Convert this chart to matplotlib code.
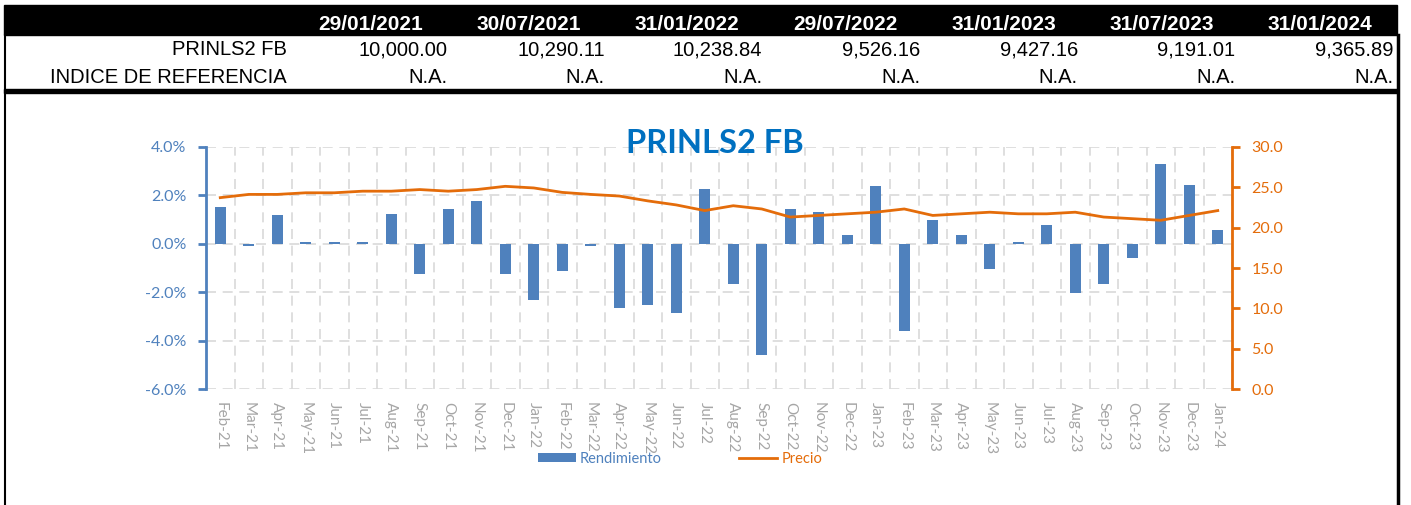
import matplotlib
matplotlib.use("Agg")
import matplotlib.pyplot as plt
from matplotlib.patches import Rectangle, Patch
from matplotlib.lines import Line2D
from matplotlib.ticker import FuncFormatter, MultipleLocator

# Table data
dates = ["29/01/2021", "30/07/2021", "31/01/2022", "29/07/2022",
         "31/01/2023", "31/07/2023", "31/01/2024"]
fund_values = ["10,000.00", "10,290.11", "10,238.84", "9,526.16",
               "9,427.16", "9,191.01", "9,365.89"]
index_values = ["N.A."] * 7
row_names = ["PRINLS2 FB", "INDICE DE REFERENCIA"]

# Chart data
months = ["Feb-21", "Mar-21", "Apr-21", "May-21", "Jun-21", "Jul-21",
          "Aug-21", "Sep-21", "Oct-21", "Nov-21", "Dec-21", "Jan-22",
          "Feb-22", "Mar-22", "Apr-22", "May-22", "Jun-22", "Jul-22",
          "Aug-22", "Sep-22", "Oct-22", "Nov-22", "Dec-22", "Jan-23",
          "Feb-23", "Mar-23", "Apr-23", "May-23", "Jun-23", "Jul-23",
          "Aug-23", "Sep-23", "Oct-23", "Nov-23", "Dec-23", "Jan-24"]
rendimiento = [1.53, -0.11, 1.17, 0.08, 0.08, 0.08, 1.22, -1.25, 1.43, 1.77, -1.25, -2.32,
               -1.11, -0.11, -2.65, -2.51, -2.84, 2.24, -1.65, -4.60, 1.43, 1.31, 0.36, 2.36,
               -3.59, 0.96, 0.36, -1.04, 0.08, 0.76, -2.05, -1.65, -0.58, 3.30, 2.42, 0.55]
precio = [23.7, 24.1, 24.1, 24.3, 24.3, 24.5, 24.5, 24.7, 24.5, 24.7, 25.1, 24.9,
          24.35, 24.1, 23.9, 23.3, 22.8, 22.1, 22.7, 22.3, 21.3, 21.5, 21.7, 21.9,
          22.3, 21.5, 21.7, 21.9, 21.7, 21.7, 21.9, 21.3, 21.1, 20.9, 21.5, 22.1]

BLUE = "#4F81BD"
ORANGE = "#E46C0A"
W, H = 1411, 505


def fx(px):
    return px / W


def fy(py):
    return 1 - py / H


fig = plt.figure(figsize=(W / 100, H / 100), dpi=100)

# ---- table on top ----
fig.patches.append(Rectangle((fx(4), fy(35)), fx(1397) - fx(4), fy(5) - fy(35),
                             transform=fig.transFigure, color="black"))
fig.patches.append(Rectangle((fx(4), fy(93)), fx(1397) - fx(4), fy(89) - fy(93),
                             transform=fig.transFigure, color="black"))
fig.lines.append(Line2D([fx(5), fx(5)], [fy(35), 0], transform=fig.transFigure,
                        color="black", lw=1.5))
fig.lines.append(Line2D([fx(1398), fx(1398)], [fy(35), 0], transform=fig.transFigure,
                        color="black", lw=2.5))

for i, d in enumerate(dates):
    fig.text(fx(370.5 + i * 158.3), fy(30), d, ha="center", va="baseline",
             color="white", fontsize=15, fontweight="bold", family="Liberation Sans")
fig.text(fx(287), fy(55), row_names[0], ha="right", va="baseline",
         fontsize=14.5, family="Liberation Sans")
fig.text(fx(287), fy(83), row_names[1], ha="right", va="baseline",
         fontsize=14.5, family="Liberation Sans")
for i in range(len(dates)):
    xr = fx(447 + i * 157.7)
    fig.text(xr, fy(55), fund_values[i], ha="right", va="baseline",
             fontsize=14.5, family="Liberation Sans")
    fig.text(xr, fy(83), index_values[i], ha="right", va="baseline",
             fontsize=14.5, family="Liberation Sans")

# ---- chart ----
plt.rcParams["font.family"] = ["Lato", "DejaVu Sans"]
ax = fig.add_axes([fx(206), fy(389.3), fx(1232) - fx(206), fy(146.7) - fy(389.3)])
ax2 = ax.twinx()

x = list(range(len(months)))
ax.bar(x, rendimiento, width=0.39, color=BLUE, zorder=3)
ax2.plot(x, precio, color=ORANGE, lw=2, zorder=4)

ax.set_xlim(-0.5, len(months) - 0.5)
ax.set_ylim(-6, 4)
ax2.set_ylim(0, 30)
ax.yaxis.set_major_locator(MultipleLocator(2))
ax2.yaxis.set_major_locator(MultipleLocator(5))
ax.yaxis.set_major_formatter(FuncFormatter(lambda v, p: f"{v:.1f}%"))
ax2.yaxis.set_major_formatter(FuncFormatter(lambda v, p: f"{v:.1f}"))

ax.set_xticks(x)
ax.set_xticklabels(months, rotation=-90, color="#A6A6A6", fontsize=11)
ax.tick_params(axis="x", length=0, pad=9)
ax.set_xticks([i + 0.5 for i in range(-1, len(months))], minor=True)
ax.tick_params(axis="x", which="minor", length=0)

ax.grid(True, axis="y", which="major", color="#D9D9D9", ls=(0, (6, 4)), lw=1.2, zorder=0)
ax.grid(True, axis="x", which="minor", color="#D9D9D9", ls=(0, (6, 4)), lw=1.2, zorder=0)
ax.set_axisbelow(True)

for a in (ax, ax2):
    for s in ("top", "bottom"):
        a.spines[s].set_visible(False)
ax.spines["right"].set_visible(False)
ax2.spines["left"].set_visible(False)
ax.spines["left"].set_color(BLUE)
ax.spines["left"].set_linewidth(2)
ax2.spines["right"].set_color(ORANGE)
ax2.spines["right"].set_linewidth(2)
ax.tick_params(axis="y", colors=BLUE, labelsize=11.5, length=6, width=2, pad=8)
ax2.tick_params(axis="y", colors=ORANGE, labelsize=11.5, length=6, width=2, pad=8)

fig.text(fx(715), fy(153), "PRINLS2 FB", ha="center", va="baseline",
         fontsize=23.5, fontweight="bold", color="#0070C0")

handles = [Patch(facecolor=BLUE, edgecolor="none"),
           Line2D([], [], color=ORANGE, lw=2)]
leg = fig.legend(handles, ["Rendimiento", "Precio"], loc="center",
                 bbox_to_anchor=(fx(680), fy(459)), ncol=2, frameon=False,
                 fontsize=10.5, handlelength=2.6, handleheight=0.6,
                 handletextpad=0.3, columnspacing=5.3)
for t, c in zip(leg.get_texts(), (BLUE, ORANGE)):
    t.set_color(c)

plt.savefig("out.png", dpi=100)
